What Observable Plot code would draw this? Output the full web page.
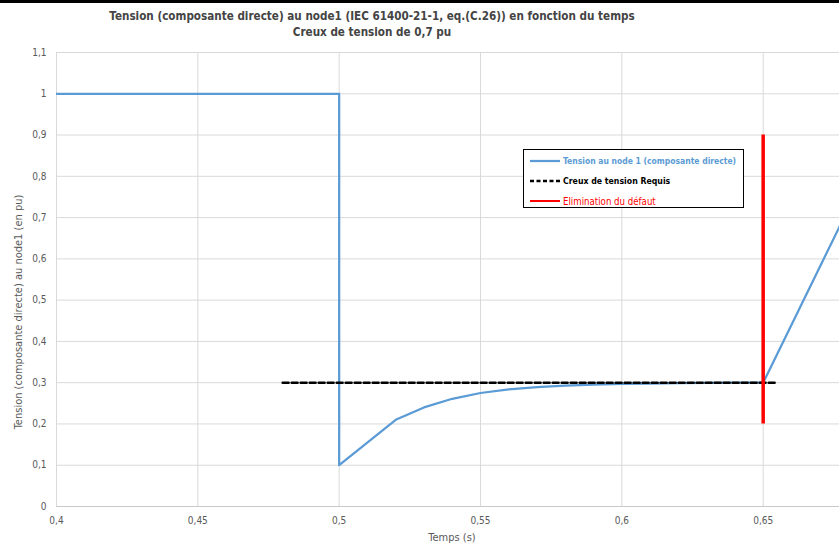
<!DOCTYPE html>
<html>
<head>
<meta charset="utf-8">
<script src="https://cdn.jsdelivr.net/npm/d3@7"></script>
<script src="https://cdn.jsdelivr.net/npm/@observablehq/plot@0.6"></script>
<style>
  html, body { margin: 0; padding: 0; background: #fff; }
  #wrap { position: relative; width: 839px; height: 546px; overflow: hidden; font-family: "DejaVu Sans Condensed", "DejaVu Sans", sans-serif; }
  #topbar { position: absolute; left: 0; top: 0; width: 839px; height: 3px; background: #000; }
  .title { position: absolute; left: 372px; transform: translateX(-50%); white-space: nowrap; font-weight: bold; color: #444; font-size: 11.6px; line-height: 14px; }
  #xlab { position: absolute; left: 452px; top: 531px; transform: translateX(-50%); font-size: 11px; color: #595959; white-space: nowrap; }
  #ylab { position: absolute; left: 18px; top: 312px; transform: translate(-50%, -50%) rotate(-90deg); font-size: 11px; color: #595959; white-space: nowrap; }
  #legend { position: absolute; left: 523px; top: 149px; width: 219px; height: 57px; border: 1.5px solid #000; background: #fff; }
  .li { position: absolute; left: 6px; height: 14px; display: flex; align-items: center; white-space: nowrap; }
  .li svg { margin-right: 3px; }
</style>
</head>
<body>
<div id="wrap">
  <div id="chart"></div>
  <div id="topbar"></div>
  <div class="title" style="top:9px">Tension (composante directe) au node1 (IEC 61400-21-1, eq.(C.26)) en fonction du temps</div>
  <div class="title" style="top:25px">Creux de tension de 0,7 pu</div>
  <div id="xlab">Temps (s)</div>
  <div id="ylab">Tension (composante directe) au node1 (en pu)</div>
  <div id="legend"></div>
</div>
<script>
// Data
const timeS    = [0.40, 0.50, 0.50, 0.52, 0.53, 0.54, 0.55, 0.56, 0.57, 0.58, 0.59, 0.60, 0.61, 0.62, 0.63, 0.64, 0.65, 0.70];
const voltagePu = [1.00, 1.00, 0.10, 0.21, 0.24, 0.261, 0.275, 0.284, 0.289, 0.293, 0.295, 0.297, 0.298, 0.299, 0.2995, 0.30, 0.30, 1.00];
const requisT = [0.48, 0.655];
const requisV = [0.30, 0.30];
const defautT = 0.65;
const defautV = [0.2, 0.9];
const xTicks = [0.4, 0.45, 0.5, 0.55, 0.6, 0.65, 0.7];
const yTicks = [0, 0.1, 0.2, 0.3, 0.4, 0.5, 0.6, 0.7, 0.8, 0.9, 1, 1.1];
const seriesNames = ["Tension au node 1 (composante directe)", "Creux de tension Requis", "Elimination du défaut"];
const colors = {blue: "#5b9bd5", black: "#000000", red: "#ff0000"};

const fr = d => String(d).replace(".", ",");
const tension = timeS.map((t, i) => ({t, v: voltagePu[i]}));
const requis = requisT.map((t, i) => ({t, v: requisV[i]}));

const font = '"DejaVu Sans Condensed", "DejaVu Sans", sans-serif';
const xMax = 0.677;

const chart = Plot.plot({
  width: 839,
  height: 546,
  marginLeft: 56,
  marginRight: 0,
  marginTop: 52,
  marginBottom: 40,
  style: {fontFamily: font, background: "transparent", overflow: "hidden"},
  x: {domain: [0.4, xMax], label: null},
  y: {domain: [0, 1.1], label: null},
  marks: [
    Plot.gridX(xTicks.filter(d => d <= xMax), {stroke: "#d9d9d9", strokeOpacity: 1}),
    Plot.gridY(yTicks, {stroke: "#d9d9d9", strokeOpacity: 1}),
    Plot.ruleY([0], {stroke: "#c8c8c8", strokeWidth: 1}),
    Plot.axisX(xTicks.filter(d => d <= xMax), {tickSize: 0, tickPadding: 10, tickFormat: fr, fill: "#595959", fontSize: 10, label: null}),
    Plot.axisY(yTicks, {tickSize: 0, tickPadding: 10, tickFormat: fr, fill: "#595959", fontSize: 10, label: null}),
    Plot.line(tension, {x: "t", y: "v", stroke: colors.blue, strokeWidth: 2.25, clip: true, strokeLinejoin: "round"}),
    Plot.line(requis, {x: "t", y: "v", stroke: colors.black, strokeWidth: 2.5, strokeDasharray: "6,3"}),
    Plot.ruleX([defautT], {y1: defautV[0], y2: defautV[1], stroke: colors.red, strokeWidth: 3.5})
  ]
});
document.getElementById("chart").appendChild(chart);

// Legend
const legend = document.getElementById("legend");
const items = [
  {name: seriesNames[0], color: colors.blue, dash: null, w: 2.25, weight: "bold", size: 8.5},
  {name: seriesNames[1], color: colors.black, dash: "4,2.5", w: 2.5, weight: "bold", size: 8.7},
  {name: seriesNames[2], color: colors.red, dash: null, w: 2, weight: "normal", size: 9.6}
];
items.forEach((it, i) => {
  const row = document.createElement("div");
  row.className = "li";
  row.style.top = (4 + i * 20) + "px";
  row.style.color = it.color;
  row.style.fontWeight = it.weight;
  row.style.fontSize = it.size + "px";
  row.innerHTML = `<svg width="30" height="6"><line x1="0" x2="30" y1="3" y2="3" stroke="${it.color}" stroke-width="${it.w}" ${it.dash ? `stroke-dasharray="${it.dash}"` : ""}/></svg><span>${it.name}</span>`;
  legend.appendChild(row);
});
</script>
</body>
</html>
